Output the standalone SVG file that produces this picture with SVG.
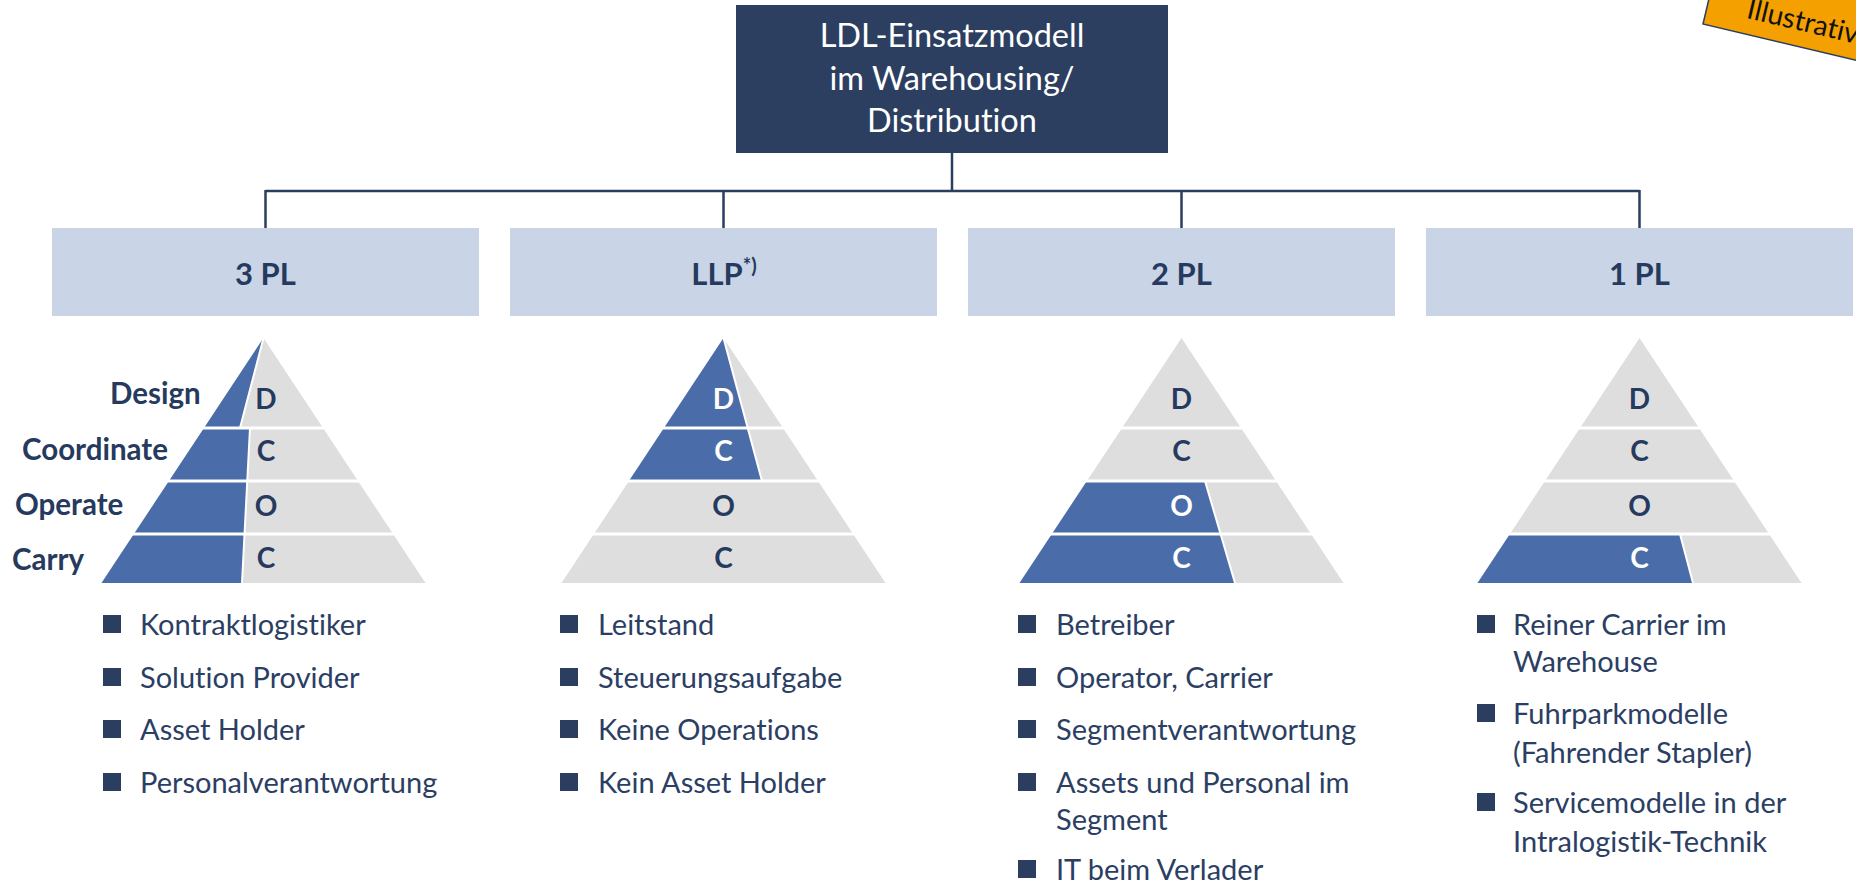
<svg xmlns="http://www.w3.org/2000/svg" width="1856" height="885" viewBox="0 0 1856 885">
<style>
text{font-variant-ligatures:none;font-feature-settings:"liga" 0,"clig" 0}
.title{font-family:Lato,"Liberation Sans",sans-serif;font-size:32.5px;fill:#ffffff;text-anchor:middle}
.hdr{font-family:Lato,"Liberation Sans",sans-serif;font-size:31px;font-weight:bold;fill:#263A5E;text-anchor:middle}
.hbox{fill:#C9D5E6}
.grey{fill:#DEDEDE}
.blue{fill:#4A6DAA}
.div{stroke:#ffffff;stroke-width:3;fill:none}
.sdiv{stroke:#ffffff;stroke-width:2;fill:none}
.let{font-family:Lato,"Liberation Sans",sans-serif;font-size:28px;font-weight:bold;text-anchor:middle}
.dk{fill:#263A5E}
.wh{fill:#ffffff}
.lbl{font-family:Lato,"Liberation Sans",sans-serif;font-size:29.5px;font-weight:bold;fill:#263A5E}
.bt{font-family:Lato,"Liberation Sans",sans-serif;font-size:29px;fill:#2B3E63}
.sq{fill:#2C3E5F}
.conn{stroke:#2C3E5F;stroke-width:2.5;fill:none}
</style>

<g id="connectors">
<path class="conn" d="M952 153 V191 M265.5 191 H1639.5 M265.5 190 V228 M723.5 190 V228 M1181.5 190 V228 M1639.5 190 V228"/>
</g>

<g id="root">
<rect x="736" y="5" width="432" height="148" fill="#2C3F60"/>
<text class="title" x="952" y="47">LDL-Einsatzmodell</text>
<text class="title" x="952" y="90">im Warehousing/</text>
<text class="title" x="952" y="132">Distribution</text>
</g>

<g id="tag" transform="translate(1703,24) rotate(13.3)">
<rect x="0" y="-60" width="200" height="60" fill="#F4A000" stroke="#2C3E5F" stroke-width="1.5"/>
<text x="40" y="-16" font-family="Lato,'Liberation Sans',sans-serif" font-size="28" fill="#111111">Illustrativ</text>
</g>

<g id="node-3pl">
<rect class="hbox" x="52" y="228" width="427" height="88"/>
<text class="hdr" x="265.5" y="285">3 PL</text>
<polygon class="grey" points="263.5,338 425.5,583 101.5,583"/>
<polygon class="blue" points="263.5,338 240,428 204,428"/>
<polygon class="blue" points="204,428 250,428 242,583 101.5,583"/>
<path class="sdiv" d="M263.5 338 L240 428 M250 428 L242 583"/>
<path class="div" d="M90 428 H440 M90 481 H440 M90 534 H440"/>
<text class="let dk" x="266" y="409">D</text>
<text class="let dk" x="266" y="461">C</text>
<text class="let dk" x="266" y="516">O</text>
<text class="let dk" x="266" y="568">C</text>
<text class="lbl" x="110" y="404">Design</text>
<text class="lbl" x="22" y="460">Coordinate</text>
<text class="lbl" x="15" y="515">Operate</text>
<text class="lbl" x="12" y="570">Carry</text>
<rect class="sq" x="103" y="615" width="18" height="18"/>
<text class="bt" x="140" y="635">Kontraktlogistiker</text>
<rect class="sq" x="103" y="668" width="18" height="18"/>
<text class="bt" x="140" y="688">Solution Provider</text>
<rect class="sq" x="103" y="720" width="18" height="18"/>
<text class="bt" x="140" y="740">Asset Holder</text>
<rect class="sq" x="103" y="773" width="18" height="18"/>
<text class="bt" x="140" y="793">Personalverantwortung</text>
</g>

<g id="node-llp">
<rect class="hbox" x="510" y="228" width="427" height="88"/>
<text class="hdr" x="724" y="285">LLP<tspan font-size="20" dy="-12">*)</tspan></text>
<polygon class="grey" points="723.5,338 885.5,583 561.5,583"/>
<polygon class="blue" points="723.5,338 762,481 628.9,481"/>
<path class="sdiv" d="M723.5 338 L762 481"/>
<path class="div" d="M550 428 H900 M550 481 H900 M550 534 H900"/>
<text class="let wh" x="723.5" y="409">D</text>
<text class="let wh" x="723.5" y="461">C</text>
<text class="let dk" x="723.5" y="516">O</text>
<text class="let dk" x="723.5" y="568">C</text>
<rect class="sq" x="560" y="615" width="18" height="18"/>
<text class="bt" x="598" y="635">Leitstand</text>
<rect class="sq" x="560" y="668" width="18" height="18"/>
<text class="bt" x="598" y="688">Steuerungsaufgabe</text>
<rect class="sq" x="560" y="720" width="18" height="18"/>
<text class="bt" x="598" y="740">Keine Operations</text>
<rect class="sq" x="560" y="773" width="18" height="18"/>
<text class="bt" x="598" y="793">Kein Asset Holder</text>
</g>

<g id="node-2pl">
<rect class="hbox" x="968" y="228" width="427" height="88"/>
<text class="hdr" x="1181.5" y="285">2 PL</text>
<polygon class="grey" points="1181.5,338 1343.5,583 1019.5,583"/>
<polygon class="blue" points="1086.9,481 1205,481 1235,583 1019.5,583"/>
<path class="sdiv" d="M1205 481 L1235 583"/>
<path class="div" d="M1000 428 H1360 M1000 481 H1360 M1000 534 H1360"/>
<text class="let dk" x="1181.5" y="409">D</text>
<text class="let dk" x="1181.5" y="461">C</text>
<text class="let wh" x="1181.5" y="516">O</text>
<text class="let wh" x="1181.5" y="568">C</text>
<rect class="sq" x="1018" y="615" width="18" height="18"/>
<text class="bt" x="1056" y="635">Betreiber</text>
<rect class="sq" x="1018" y="668" width="18" height="18"/>
<text class="bt" x="1056" y="688">Operator, Carrier</text>
<rect class="sq" x="1018" y="720" width="18" height="18"/>
<text class="bt" x="1056" y="740">Segmentverantwortung</text>
<rect class="sq" x="1018" y="773" width="18" height="18"/>
<text class="bt" x="1056" y="793">Assets und Personal im</text>
<text class="bt" x="1056" y="830">Segment</text>
<rect class="sq" x="1018" y="860" width="18" height="18"/>
<text class="bt" x="1056" y="880">IT beim Verlader</text>
</g>

<g id="node-1pl">
<rect class="hbox" x="1426" y="228" width="427" height="88"/>
<text class="hdr" x="1639.5" y="285">1 PL</text>
<polygon class="grey" points="1639.5,338 1801.5,583 1477.5,583"/>
<polygon class="blue" points="1509.9,534 1680,534 1693,583 1477.5,583"/>
<path class="sdiv" d="M1680 534 L1693 583"/>
<path class="div" d="M1460 428 H1820 M1460 481 H1820 M1460 534 H1820"/>
<text class="let dk" x="1639.5" y="409">D</text>
<text class="let dk" x="1639.5" y="461">C</text>
<text class="let dk" x="1639.5" y="516">O</text>
<text class="let wh" x="1639.5" y="568">C</text>
<rect class="sq" x="1477" y="615" width="18" height="18"/>
<text class="bt" x="1513" y="635">Reiner Carrier im</text>
<text class="bt" x="1513" y="672">Warehouse</text>
<rect class="sq" x="1477" y="704" width="18" height="18"/>
<text class="bt" x="1513" y="724">Fuhrparkmodelle</text>
<text class="bt" x="1513" y="763">(Fahrender Stapler)</text>
<rect class="sq" x="1477" y="793" width="18" height="18"/>
<text class="bt" x="1513" y="813">Servicemodelle in der</text>
<text class="bt" x="1513" y="852">Intralogistik-Technik</text>
</g>
</svg>
